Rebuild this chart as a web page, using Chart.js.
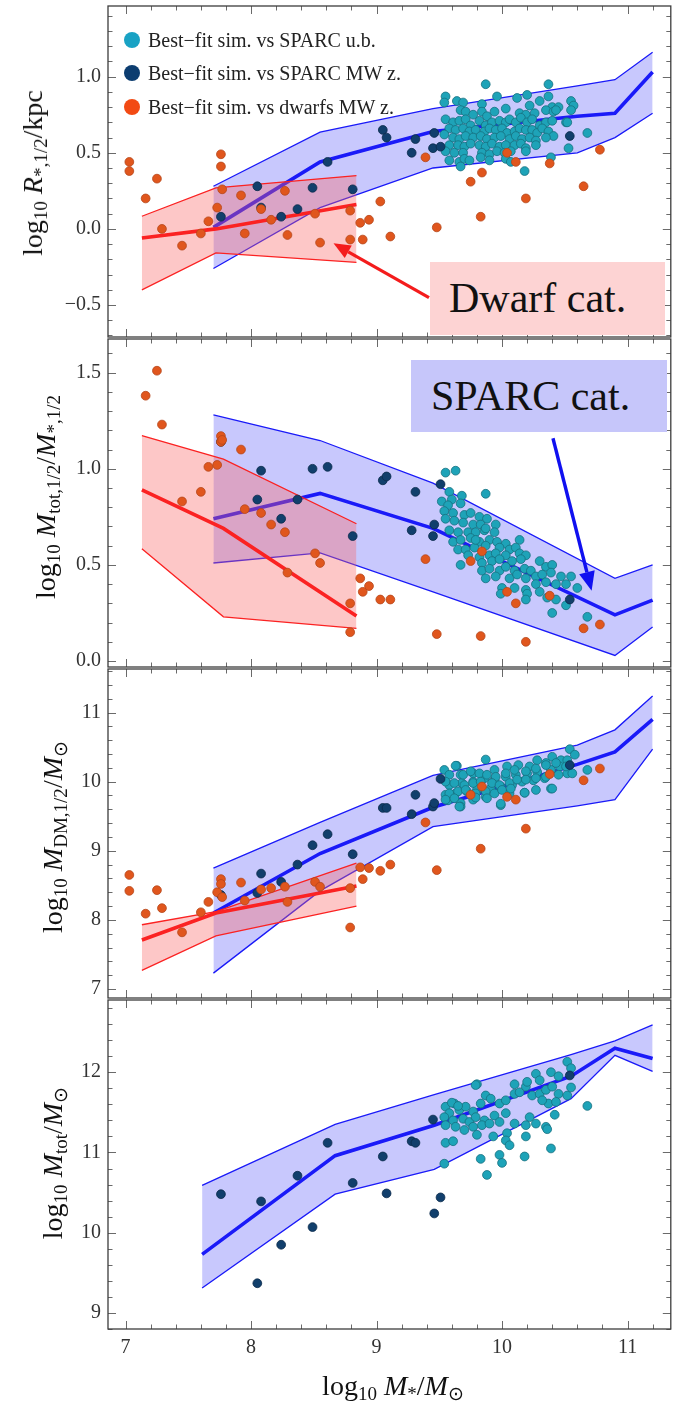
<!DOCTYPE html>
<html>
<head>
<meta charset="utf-8">
<script src="https://cdn.jsdelivr.net/npm/chart.js@4.4.1/dist/chart.umd.min.js"></script>
<style>
  body { margin: 0; background: #fff; }
  #fig { position: relative; width: 676px; height: 1407px; overflow: hidden;
         font-family: "Liberation Serif", "Times New Roman", serif; color: #111; }
  #fig canvas { position: absolute; left: 0; }
  .ytitle { position: absolute; white-space: nowrap; font-size: 28px; line-height: 1;
            transform: translate(-50%, -50%) rotate(-90deg); z-index: 5; }
  .xtitle { position: absolute; white-space: nowrap; font-size: 28px; line-height: 1;
            transform: translateX(-50%); z-index: 5; }
  sub { font-size: 0.68em; vertical-align: -0.28em; line-height: 0; font-style: normal; }
  .legend-row { position: absolute; left: 124px; height: 24px; z-index: 5; }
  .legend-row .dot { position: absolute; left: 0; top: 4px; width: 16px; height: 16px; border-radius: 50%; }
  .legend-row .txt { position: absolute; left: 24px; top: 0; font-size: 20px; line-height: 24px; white-space: nowrap; color: #222; }
  .catbox { position: absolute; z-index: 6; font-size: 42px; white-space: nowrap; }
</style>
</head>
<body>
<div id="fig">
  <canvas id="c1" width="676" height="379" style="top:-18px"></canvas>
  <canvas id="c2" width="676" height="376" style="top:315px"></canvas>
  <canvas id="c3" width="676" height="377" style="top:645px"></canvas>
  <canvas id="c4" width="676" height="413" style="top:976px"></canvas>

  <div class="ytitle" style="left:33px;top:173px">log<sub>10</sub> <i>R</i><sub>*,1/2</sub>/kpc</div>
  <div class="ytitle" style="left:46px;top:497px">log<sub>10</sub> <i>M</i><sub>tot,1/2</sub>/<i>M</i><sub>*,1/2</sub></div>
  <div class="ytitle" style="left:53px;top:837px">log<sub>10</sub> <i>M</i><sub>DM,1/2</sub>/<i>M</i><sub>⊙</sub></div>
  <div class="ytitle" style="left:53px;top:1163px">log<sub>10</sub> <i>M</i><sub>tot</sub>/<i>M</i><sub>⊙</sub></div>
  <div class="xtitle" style="left:393px;top:1372px">log<sub>10</sub> <i>M</i><sub>*</sub>/<i>M</i><sub>⊙</sub></div>

  <div class="legend-row" style="top:28px"><div class="dot" style="background:#19a2c4"></div><div class="txt">Best−fit sim. vs SPARC u.b.</div></div>
  <div class="legend-row" style="top:61px"><div class="dot" style="background:#0c3d70"></div><div class="txt">Best−fit sim. vs SPARC MW z.</div></div>
  <div class="legend-row" style="top:95px"><div class="dot" style="background:#f24a14"></div><div class="txt">Best−fit sim. vs dwarfs MW z.</div></div>

  <div class="catbox" style="left:430px;top:262px;width:216px;height:73px;line-height:73px;padding-left:19px;background:#fdd3d3">Dwarf cat.</div>
  <div class="catbox" style="left:411px;top:360px;width:236px;height:72px;line-height:72px;padding-left:20px;background:#c6c6fa">SPARC cat.</div>
</div>

<script>
const xMin = 6.86, xMax = 11.345;

// dwarf sample (same stellar masses in the three upper panels)
const dwarfLogMs = [7.03, 7.03, 7.16, 7.25, 7.29, 7.45, 7.60, 7.66, 7.73, 7.76, 7.76, 7.77, 7.92, 7.95, 8.08, 8.16, 8.27, 8.29, 8.51, 8.55,
  8.79, 8.79, 8.87, 8.89, 8.94, 9.03, 9.11, 9.39, 9.48, 9.75, 9.84, 9.83, 10.04, 10.11, 10.19, 10.38, 10.65, 10.78];
const dwarfLogR = [0.44, 0.38, 0.20, 0.33, 0.00, -0.11, -0.03, 0.05, 0.14, 0.49, 0.41, 0.26, 0.22, -0.03, 0.13, 0.06, 0.25, -0.04, 0.10, -0.09,
  0.12, -0.07, 0.04, -0.07, 0.06, 0.18, -0.05, 0.47, 0.01, 0.31, 0.37, 0.08, 0.50, 0.44, 0.20, 0.43, 0.28, 0.52];
const dwarfLogRatio = [null, null, 1.38, 1.51, 1.23, 0.83, 0.88, 1.01, 1.02, 1.17, 1.14, 1.15, 1.10, 0.79, 0.77, 0.71, 0.67, 0.46, 0.56, 0.51,
  0.30, 0.15, 0.43, 0.36, 0.39, 0.32, 0.32, 0.53, 0.14, 0.52, 0.57, 0.13, 0.36, 0.30, 0.10, 0.34, 0.17, 0.19];
const dwarfLogMdm = [8.65, 8.42, 8.09, 8.43, 8.17, 7.82, 8.11, 8.26, 8.40, 8.59, 8.52, 8.33, 8.54, 8.28, 8.44, 8.46, 8.48, 8.26, 8.55, 8.48,
  8.46, 7.89, 8.76, 8.59, 8.75, 8.71, 8.80, 9.41, 8.72, 9.81, 9.93, 9.03, 9.78, 9.74, 9.32, 10.11, 10.02, 10.19];

// SPARC galaxies fitted with MW redshift
const mwLogMs = [7.76, 8.05, 8.08, 8.24, 8.37, 8.49, 8.61, 8.81, 9.05, 9.08, 9.28, 9.31, 9.45, 9.46, 9.51, 10.54];
const mwLogR = [0.08, 0.28, 0.14, 0.08, 0.13, 0.27, 0.44, 0.26, 0.65, 0.60, 0.50, 0.59, 0.53, 0.63, 0.54, 0.61];
const mwLogRatio = [1.14, 0.84, 0.99, 0.74, 0.84, 1.00, 1.01, 0.65, 0.94, 0.96, 0.68, 0.88, 0.65, 0.71, 0.92, 0.32];
const mwLogMdm = [8.36, 8.39, 8.67, 8.55, 8.80, 9.08, 9.24, 8.95, 9.62, 9.62, 9.53, 9.81, 9.64, 9.69, 10.04, 10.24];
const mwLogMtot = [10.48, 9.37, 10.39, 9.85, 10.71, 10.07, 11.12, 10.62, 10.95, 10.49, 11.14, 11.12, 11.41, 10.24, 10.44, 11.96];

// SPARC galaxies, upper-bound fits: [log M*, value]
const ubR = [[9.87,0.95],[10.37,0.95],[9.55,0.87],[9.96,0.87],[10.20,0.88],[10.12,0.86],[10.37,0.87],[9.54,0.83],[9.64,0.84],[9.69,0.83],
  [9.84,0.82],[10.30,0.84],[10.55,0.84],[10.57,0.81],[10.22,0.81],[10.40,0.80],[10.45,0.80],[10.03,0.79],[9.67,0.78],[9.71,0.77],
  [9.77,0.75],[9.84,0.77],[9.94,0.77],[9.88,0.74],[10.14,0.76],[10.19,0.75],[10.26,0.76],[10.35,0.78],[10.41,0.77],[10.43,0.78],
  [10.55,0.78],[9.55,0.72],[9.61,0.70],[9.66,0.71],[9.71,0.72],[9.75,0.68],[9.82,0.71],[9.87,0.68],[9.92,0.70],[9.98,0.71],
  [10.03,0.70],[10.06,0.72],[10.11,0.70],[10.15,0.73],[10.20,0.70],[10.24,0.72],[10.30,0.68],[10.35,0.70],[10.40,0.71],[10.51,0.70],
  [9.58,0.66],[9.63,0.65],[9.69,0.66],[9.74,0.64],[9.79,0.65],[9.86,0.64],[9.90,0.66],[9.95,0.65],[10.00,0.66],[10.04,0.63],
  [10.10,0.64],[10.14,0.66],[10.19,0.65],[10.24,0.65],[10.28,0.63],[10.32,0.66],[10.37,0.64],[10.41,0.61],[9.54,0.62],[9.61,0.60],
  [9.66,0.59],[9.71,0.61],[9.77,0.60],[9.83,0.61],[9.88,0.59],[9.94,0.60],[9.99,0.61],[10.06,0.59],[10.11,0.61],[10.16,0.59],
  [10.22,0.60],[10.27,0.58],[10.35,0.60],[9.58,0.55],[9.65,0.55],[9.70,0.54],[9.75,0.56],[9.82,0.55],[9.87,0.54],[9.92,0.56],
  [9.98,0.54],[10.03,0.55],[10.10,0.55],[10.15,0.56],[10.19,0.53],[10.27,0.55],[9.55,0.51],[9.62,0.50],[9.69,0.50],[9.84,0.50],
  [9.90,0.49],[9.96,0.51],[10.02,0.50],[10.07,0.51],[10.19,0.51],[10.39,0.47],[9.58,0.45],[9.66,0.44],[9.70,0.46],[9.74,0.45],
  [9.83,0.47],[9.90,0.45],[10.03,0.46],[10.07,0.44],[9.67,0.41],[10.68,0.63],[10.53,0.53],[10.52,0.70],[10.18,0.38]];
const ubRatio = [[9.55,0.98],[9.63,0.99],[9.87,0.87],[9.68,0.86],[9.58,0.88],[9.52,0.83],[9.60,0.84],
  [9.57,0.81],[9.67,0.82],[9.54,0.78],[9.61,0.77],[9.70,0.76],[9.75,0.77],[9.82,0.75],[9.88,0.74],[9.95,0.71],[9.55,0.74],
  [9.62,0.73],[9.69,0.72],[9.77,0.71],[9.83,0.71],[9.94,0.67],[9.58,0.68],[9.65,0.67],[9.73,0.67],[9.79,0.67],[9.86,0.68],
  [9.90,0.63],[9.61,0.62],[9.67,0.63],[9.75,0.64],[9.82,0.62],[9.96,0.62],[10.03,0.61],[10.14,0.63],[9.65,0.58],[9.71,0.58],
  [9.78,0.59],[9.87,0.60],[9.98,0.59],[10.06,0.58],[10.11,0.59],[9.73,0.55],[9.82,0.54],[9.90,0.55],[9.95,0.56],[10.03,0.55],
  [10.14,0.56],[10.19,0.55],[9.67,0.50],[9.84,0.51],[9.92,0.52],[9.98,0.53],[10.08,0.52],[10.15,0.53],[10.30,0.52],[9.84,0.47],
  [9.90,0.48],[9.98,0.47],[10.03,0.49],[10.10,0.47],[10.18,0.48],[10.23,0.47],[10.35,0.49],[10.40,0.50],[9.87,0.43],[9.95,0.44],
  [10.06,0.43],[10.12,0.45],[10.19,0.43],[10.27,0.44],[10.32,0.45],[10.39,0.46],[10.47,0.44],[10.55,0.44],[10.00,0.38],[10.10,0.38],
  [10.19,0.37],[10.27,0.40],[10.35,0.41],[10.43,0.40],[10.51,0.40],[10.60,0.38],[9.99,0.35],[10.20,0.35],[10.30,0.36],[10.36,0.33],
  [10.19,0.32],[10.43,0.32],[10.51,0.29],[10.40,0.25],[10.68,0.23],[9.87,0.69],[9.79,0.63]];
const ubMdm = [[9.54,10.17],[9.64,10.23],[9.58,10.10],[9.67,10.10],[9.77,10.12],[9.87,10.32],[9.94,10.17],[10.04,10.22],[10.13,10.24],
  [10.22,10.22],[10.28,10.31],[10.35,10.27],[10.40,10.36],[10.47,10.31],[10.54,10.47],[10.58,10.39],[10.52,10.31],[10.68,10.17],
  [9.58,9.95],[9.68,9.98],[9.77,10.00],[9.86,10.05],[9.94,10.02],[10.03,10.07],[10.11,10.10],[10.20,10.12],[10.28,10.14],[10.39,10.17],
  [10.46,10.22],[9.55,9.81],[9.63,9.83],[9.72,9.86],[9.80,9.88],[9.91,9.90],[9.99,9.93],[10.08,9.95],[10.16,10.00],[10.25,10.02],
  [10.34,10.05],[9.57,9.73],[9.67,9.69],[9.77,9.74],[9.87,9.78],[9.99,9.66],[10.06,9.83],[10.18,9.84],[10.27,9.88],[10.39,9.90],
  [9.67,9.64],[10.52,10.12],[9.63,10.23],[9.69,10.10],[9.75,10.15],[9.82,10.12],[9.88,10.10],[9.95,10.07],[10.03,10.12],[10.10,10.17],
  [10.19,10.15],[10.27,10.19],[10.35,10.24],[10.43,10.27],[10.51,10.22],[10.56,10.12],[9.55,10.00],[9.62,9.98],[9.70,9.95],[9.77,9.98],
  [9.83,10.00],[9.92,9.98],[9.98,9.95],[10.06,9.98],[10.12,10.03],[10.19,10.03],[10.27,10.05],[10.35,10.07],[10.45,10.10],[9.58,9.83],
  [9.65,9.86],[9.71,9.88],[9.79,9.83],[9.87,9.86],[9.94,9.83],[10.00,9.88],[10.07,9.90],[9.55,9.74],[9.62,9.76],[9.66,9.64],
  [9.79,9.77],[9.88,9.76],[9.99,9.68],[10.18,9.84],[10.40,9.90]];
const ubMtot = [[9.80,11.85],[9.55,11.57],[9.62,11.61],[9.58,11.49],[9.66,11.53],[9.71,11.57],[9.77,11.51],[9.83,11.61],[9.87,11.71],
  [9.91,11.67],[9.98,11.61],[10.03,11.65],[10.10,11.73],[10.14,11.75],[10.19,11.82],[10.24,11.71],[10.30,11.73],[10.35,11.78],[10.40,11.82],
  [10.45,11.73],[10.52,11.71],[10.55,11.81],[9.54,11.44],[9.61,11.40],[9.69,11.42],[9.74,11.38],[9.79,11.44],[9.86,11.40],[9.94,11.46],
  [10.03,11.49],[9.55,11.34],[9.63,11.32],[9.70,11.28],[9.77,11.32],[9.84,11.34],[9.90,11.36],[9.98,11.38],[10.10,11.36],[10.22,11.44],
  [10.19,11.34],[10.27,11.36],[10.35,11.32],[10.36,11.29],[10.42,11.47],[10.68,11.58],[9.55,11.12],[9.61,11.14],[9.80,11.22],[9.93,11.20],
  [10.04,11.24],[10.03,11.15],[10.06,11.09],[10.19,11.20],[10.39,11.05],[9.83,10.92],[9.98,10.97],[10.00,10.87],[10.18,10.95],[9.88,10.72],
  [9.54,10.86],[10.37,11.61],[10.32,11.65],[10.43,11.63],[10.52,12.13],[10.55,12.05],[10.39,12.00],[10.27,11.98],[10.45,11.95],
  [10.30,11.90],[10.20,11.88],[10.10,11.85],[9.79,11.84],[9.60,11.62],[9.65,11.58]];

// simulation bands (lower edge, median, upper edge)
const simX1 = [7.70, 8.55, 9.45, 10.6, 10.9, 11.2];
const simLo1 = [-0.26, 0.14, 0.40, 0.50, 0.60, 0.76];
const simMid1 = [0.01, 0.44, 0.64, 0.74, 0.76, 1.03];
const simHi1 = [0.28, 0.635, 0.79, 0.94, 0.98, 1.16];
const simX2 = [7.70, 8.55, 9.45, 10.9, 11.2];
const simLo2 = [0.51, 0.563, 0.36, 0.029, 0.177];
const simMid2 = [0.74, 0.872, 0.69, 0.24, 0.317];
const simHi2 = [1.28, 1.147, 0.925, 0.43, 0.50];
const simX3 = [7.70, 8.55, 9.45, 10.6, 10.9, 11.2];
const simLo3 = [7.23, 8.42, 9.35, 9.65, 9.74, 10.47];
const simMid3 = [8.10, 8.96, 9.63, 10.25, 10.43, 10.90];
const simHi3 = [8.75, 9.41, 10.09, 10.53, 10.75, 11.24];
const simX4 = [7.61, 8.67, 9.46, 10.55, 10.9, 11.2];
const simLo4 = [9.31, 10.48, 10.79, 11.67, 12.21, 12.01];
const simMid4 = [9.73, 10.96, 11.34, 11.95, 12.30, 12.17];
const simHi4 = [10.59, 11.35, 11.72, 12.22, 12.39, 12.59];

const dwarfSimX1 = [7.13, 7.72, 8.84];
const dwarfSimLo1 = [-0.40, -0.157, -0.22];
const dwarfSimMid1 = [-0.06, 0.0, 0.16];
const dwarfSimHi1 = [0.083, 0.27, 0.35];
const dwarfSimX2 = [7.13, 7.78, 8.84];
const dwarfSimLo2 = [0.584, 0.23, 0.17];
const dwarfSimMid2 = [0.89, 0.69, 0.234];
const dwarfSimHi2 = [1.173, 1.05, 0.714];
const dwarfSimX3 = [7.13, 7.72, 8.84];
const dwarfSimLo3 = [7.27, 7.77, 8.20];
const dwarfSimMid3 = [7.71, 8.10, 8.49];
const dwarfSimHi3 = [7.93, 8.12, 8.82];

// arrows from the catalogue labels: [fromX, fromY, toX, toY]
const dwarfArrow = [9.418, -0.452, 8.657, -0.095];
const sparcArrow = [10.406, 1.159, 10.714, 0.366];

const SERIF = 'Liberation Serif';
Chart.defaults.font.family = SERIF;
const BLUE = '#1a1af8', BLUE_FILL = 'rgba(118, 118, 250, 0.40)';
const RED = '#fb2222', RED_FILL = 'rgba(250, 100, 100, 0.36)';

const pts = (xs, ys) => xs.map((x, i) => ({x, y: ys[i]})).filter(p => p.y !== null);
const pairs = arr => arr.map(([x, y]) => ({x, y}));

function band(xs, lo, mid, hi, color, fill, order) {
  const common = {pointRadius: 0, pointHoverRadius: 0, tension: 0};
  return [
    {...common, data: pts(xs, lo), borderColor: color, borderWidth: 1.3, fill: false, order},
    {...common, data: pts(xs, hi), borderColor: color, borderWidth: 1.3, fill: '-1', backgroundColor: fill, order},
    {...common, data: pts(xs, mid), borderColor: color, borderWidth: 3.6, fill: false, order: order - 1}
  ];
}

function dots(data, fillColor, edge, order) {
  return {data, showLine: false, pointRadius: 4.4, pointHoverRadius: 4.4,
    pointBackgroundColor: fillColor, pointBorderColor: edge, pointBorderWidth: 0.8, order};
}
const cyanDots = d => dots(d, '#1ea3b8', '#16707f', 3);
const navyDots = d => dots(d, '#113f6c', '#0a2a4a', 2);
const orangeDots = d => dots(d, '#e0561d', '#b5461a', 1);

// inward ticks on all four sides plus the frame
const frameTicks = {
  id: 'frameTicks',
  afterDatasetsDraw(chart, args, o) {
    const {ctx, chartArea: a, scales: {x, y}} = chart;
    const each = (scale, minor, major, fn) => {
      const start = Math.ceil(scale.min / minor - 1e-9), end = Math.floor(scale.max / minor + 1e-9);
      for (let i = start; i <= end; i++) {
        const r = (i * minor) / major;
        const isMajor = Math.abs(r - Math.round(r)) < 1e-6;
        fn(Math.round(scale.getPixelForValue(i * minor)) + 0.5, isMajor ? 8 : 4.5);
      }
    };
    ctx.save();
    ctx.strokeStyle = '#6a6a6a';
    ctx.lineWidth = 1;
    ctx.beginPath();
    each(x, o.xMinor, o.xMajor, (px, len) => {
      ctx.moveTo(px, a.bottom); ctx.lineTo(px, a.bottom - len);
      ctx.moveTo(px, a.top); ctx.lineTo(px, a.top + len);
    });
    each(y, o.yMinor, o.yMajor, (py, len) => {
      ctx.moveTo(a.left, py); ctx.lineTo(a.left + len, py);
      ctx.moveTo(a.right, py); ctx.lineTo(a.right - len, py);
    });
    ctx.stroke();
    ctx.strokeStyle = '#3c3c3c';
    ctx.lineWidth = 1.3;
    ctx.strokeRect(a.left, a.top, a.right - a.left, a.bottom - a.top);
    ctx.restore();
  }
};

const arrows = {
  id: 'arrows',
  afterDatasetsDraw(chart, args, o) {
    const {ctx, scales: {x, y}} = chart;
    (o.list || []).forEach(ar => {
      const [fx, fy, tx, ty] = ar.coords;
      const x0 = x.getPixelForValue(fx), y0 = y.getPixelForValue(fy);
      const x1 = x.getPixelForValue(tx), y1 = y.getPixelForValue(ty);
      const ang = Math.atan2(y1 - y0, x1 - x0);
      const c = Math.cos(ang), s = Math.sin(ang);
      const bx = x1 - ar.head * c, by = y1 - ar.head * s;
      const hw = ar.head * 0.42;
      ctx.save();
      ctx.strokeStyle = ar.color;
      ctx.fillStyle = ar.color;
      ctx.lineWidth = ar.width;
      ctx.beginPath();
      ctx.moveTo(x0, y0);
      ctx.lineTo(bx, by);
      ctx.stroke();
      ctx.beginPath();
      ctx.moveTo(x1, y1);
      ctx.lineTo(bx - hw * s, by + hw * c);
      ctx.lineTo(bx + hw * s, by - hw * c);
      ctx.closePath();
      ctx.fill();
      ctx.restore();
    });
  }
};

const fmt1 = v => v.toFixed(1).replace('-', '\u2212');
const fmt0 = v => String(Math.round(v));

function panel(canvasId, p) {
  return new Chart(document.getElementById(canvasId), {
    type: 'line',
    data: {datasets: p.datasets},
    options: {
      responsive: false,
      animation: false,
      events: [],
      layout: {padding: {left: 0, right: 4, top: 24, bottom: p.showX ? 0 : 24}},
      plugins: {
        legend: {display: false},
        tooltip: {enabled: false},
        frameTicks: {xMinor: 0.2, xMajor: 1, yMinor: p.yMinor, yMajor: p.yMajor},
        arrows: {list: p.arrows || []}
      },
      scales: {
        x: {
          type: 'linear', min: xMin, max: xMax, display: p.showX,
          grid: {display: false, drawTicks: false}, border: {display: false},
          ticks: {stepSize: 1, includeBounds: false, padding: 7, color: '#333',
                  font: {family: SERIF, size: 20}, callback: fmt0},
          afterFit: s => { if (p.showX) s.height = 60; }
        },
        y: {
          type: 'linear', min: p.yMin, max: p.yMax,
          grid: {display: false, drawTicks: false}, border: {display: false},
          ticks: {stepSize: p.yMajor, includeBounds: false, padding: 7, color: '#333',
                  font: {family: SERIF, size: 20}, callback: p.fmt},
          afterFit: s => { s.width = 108; }
        }
      }
    },
    plugins: [frameTicks, arrows]
  });
}

panel('c1', {
  yMin: -0.71, yMax: 1.464, yMajor: 0.5, yMinor: 0.1, fmt: fmt1, showX: false,
  arrows: [{coords: dwarfArrow, color: '#f41c1c', width: 3.2, head: 17}],
  datasets: [
    ...band(simX1, simLo1, simMid1, simHi1, BLUE, BLUE_FILL, 10),
    ...band(dwarfSimX1, dwarfSimLo1, dwarfSimMid1, dwarfSimHi1, RED, RED_FILL, 8),
    cyanDots(pairs(ubR)),
    navyDots(pts(mwLogMs, mwLogR)),
    orangeDots(pts(dwarfLogMs, dwarfLogR))
  ]
});

panel('c2', {
  yMin: -0.031, yMax: 1.675, yMajor: 0.5, yMinor: 0.1, fmt: fmt1, showX: false,
  arrows: [{coords: sparcArrow, color: '#1010f0', width: 3.4, head: 19}],
  datasets: [
    ...band(simX2, simLo2, simMid2, simHi2, BLUE, BLUE_FILL, 10),
    ...band(dwarfSimX2, dwarfSimLo2, dwarfSimMid2, dwarfSimHi2, RED, RED_FILL, 8),
    cyanDots(pairs(ubRatio)),
    navyDots(pts(mwLogMs, mwLogRatio)),
    orangeDots(pts(dwarfLogMs, dwarfLogRatio))
  ]
});

panel('c3', {
  yMin: 6.87, yMax: 11.63, yMajor: 1, yMinor: 0.2, fmt: fmt0, showX: false,
  datasets: [
    ...band(simX3, simLo3, simMid3, simHi3, BLUE, BLUE_FILL, 10),
    ...band(dwarfSimX3, dwarfSimLo3, dwarfSimMid3, dwarfSimHi3, RED, RED_FILL, 8),
    cyanDots(pairs(ubMdm)),
    navyDots(pts(mwLogMs, mwLogMdm)),
    orangeDots(pts(dwarfLogMs, dwarfLogMdm))
  ]
});

panel('c4', {
  yMin: 8.80, yMax: 12.90, yMajor: 1, yMinor: 0.2, fmt: fmt0, showX: true,
  datasets: [
    ...band(simX4, simLo4, simMid4, simHi4, BLUE, BLUE_FILL, 10),
    cyanDots(pairs(ubMtot)),
    navyDots(pts(mwLogMs, mwLogMtot))
  ]
});
</script>
</body>
</html>
